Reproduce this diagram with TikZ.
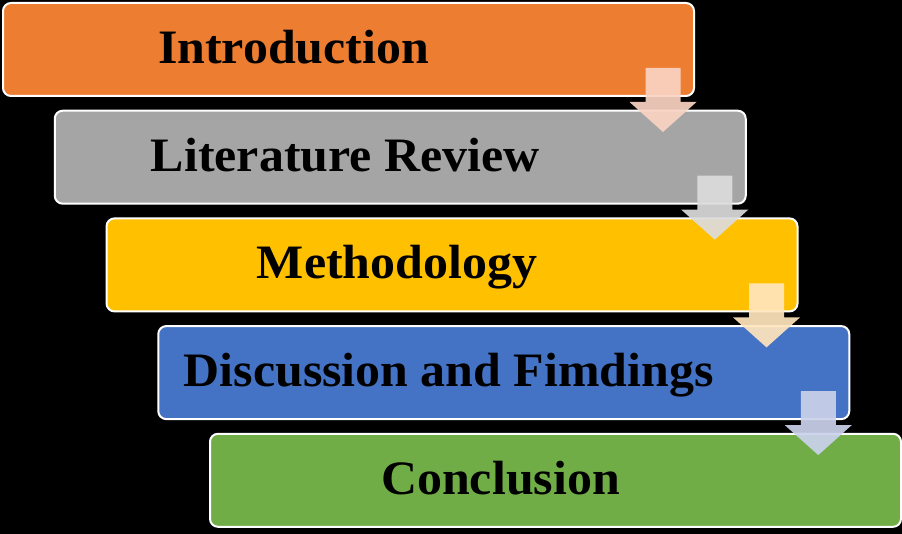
\documentclass[tikz,border=0pt]{standalone}
\usepackage{fontspec}
\setmainfont{Liberation Serif}
\newfontfamily\stagefont[FakeStretch=1.04]{Liberation Serif}
\definecolor{cOrange}{HTML}{ED7D31}
\definecolor{cGray}{HTML}{A5A5A5}
\definecolor{cYellow}{HTML}{FFC000}
\definecolor{cBlue}{HTML}{4472C4}
\definecolor{cGreen}{HTML}{70AD47}
\definecolor{aOrange}{HTML}{FAD3C3}
\definecolor{aGray}{HTML}{DCDCDC}
\definecolor{aYellow}{HTML}{FFE5BC}
\definecolor{aBlue}{HTML}{CBD2EB}
\newcommand\flowarr[2]{%
  \fill[#2, fill opacity=0.92] (#1) ++(-17.5,0) -- ++(35,0) -- ++(0,34) -- ++(16,0)
    -- ++(-33.5,30) -- ++(-33.5,-30) -- ++(16,0) -- cycle;}
\begin{document}
\begin{tikzpicture}[x=1pt,y=-1pt]
\tikzset{
  stage/.style={draw=white, line width=2pt, rounded corners=8pt,
    minimum width=691pt, minimum height=93pt, inner sep=0pt, anchor=north west},
  lbl/.style={font=\stagefont\fontsize{48}{50}\selectfont\bfseries, anchor=base, text=black, inner sep=0pt}
}
\useasboundingbox[fill=black] (0,0) rectangle (902,534);
\node[stage, fill=cOrange] (b1) at (2,2) {};
\node[stage, fill=cGray]   (b2) at (53.75,109.7) {};
\node[stage, fill=cYellow] (b3) at (105.5,217.4) {};
\node[stage, fill=cBlue]   (b4) at (157.25,325.1) {};
\node[stage, fill=cGreen]  (b5) at (209,432.8) {};
\foreach \i/\t in {1/Introduction, 2/Literature Review, 3/Methodology, 4/Discussion and Fimdings, 5/Conclusion}
  \node[lbl] (t\i) at ([xshift=-55pt, yshift=-14pt] b\i.center) {\t};
\coordinate (a1) at (663,68);
\coordinate (a2) at (714.75,175.7);
\coordinate (a3) at (766.5,283.4);
\coordinate (a4) at (818.25,391.1);
\flowarr{a1}{aOrange}
\flowarr{a2}{aGray}
\flowarr{a3}{aYellow}
\flowarr{a4}{aBlue}
\end{tikzpicture}
\end{document}
